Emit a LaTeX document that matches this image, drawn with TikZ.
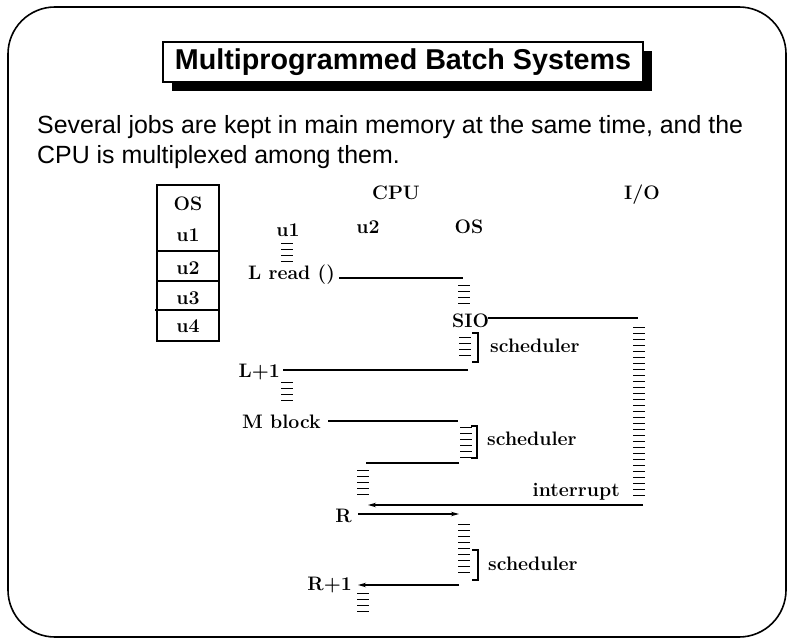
\documentclass[tikz,border=0pt]{standalone}
\usepackage{fontspec}
\newfontfamily\sansf{Liberation Sans}
\usetikzlibrary{arrows.meta}
\newcommand{\tstack}[3]{\draw[stk] (#1,#2) -- (#1,#3);}
\begin{document}
\begin{tikzpicture}[x=1pt,y=-1pt,
  lbl/.style={font=\bfseries\fontsize{19.5}{24}\selectfont, inner sep=0pt},
  tl/.style={line width=1.2pt},
  stk/.style={line width=12pt, dash pattern=on 1.3pt off 4.7pt},
  arr/.style={tl,-{Stealth[length=8pt,width=4.5pt]}},
  brk/.style={line width=1.2pt}]
\useasboundingbox (0,0) rectangle (789,639);
% frame
\draw[line width=1.6pt, rounded corners=47pt] (8,7) rectangle (786,637);
% title with shadow
\fill (172,51) rectangle (652,91);
\node[draw, line width=1.3pt, fill=white, inner sep=0pt, minimum width=480pt, minimum height=40pt,
  font=\sansf\bfseries\fontsize{28.7}{32}\selectfont] (title) at (403,62) {Multiprogrammed Batch Systems};
% body text
\node[anchor=base west, inner sep=0pt, font=\sansf\fontsize{24.9}{30}\selectfont] (l1) at (37,134)
  {Several jobs are kept in main memory at the same time, and the};
\node[anchor=base west, inner sep=0pt, font=\sansf\fontsize{24.9}{30}\selectfont] (l2) at (37,164)
  {CPU is multiplexed among them.};
% memory box
\node[draw, tl, minimum width=62pt, minimum height=156pt, inner sep=0pt] (mem) at (188,263) {};
\draw[tl] (157,251) -- (219,251);
\draw[tl] (157,281) -- (219,281);
\draw[tl] (155,310) -- (219,310);
\node[lbl, anchor=base] (mos) at (188,210) {OS};
\node[lbl, anchor=base] (mu1) at (188,241) {u1};
\node[lbl, anchor=base] (mu2) at (188,274) {u2};
\node[lbl, anchor=base] (mu3) at (188,304) {u3};
\node[lbl, anchor=base] (mu4) at (188,332) {u4};
% column headers
\node[lbl, anchor=base] (cpu) at (396,199) {CPU};
\node[lbl, anchor=base] (io) at (642,199) {I/O};
\node[lbl, anchor=base] (cu1) at (288,236) {u1};
\node[lbl, anchor=base] (cu2) at (368,233) {u2};
\node[lbl, anchor=base] (cos) at (469,233) {OS};
% labels
\node[lbl, anchor=base east] (lread) at (335,279) {L read ()};
\node[lbl, anchor=base west] (sio) at (452,327) {SIO};
\node[lbl, anchor=base west] (sch1) at (490,352) {scheduler};
\node[lbl, anchor=base east] (lp1) at (280,377) {L+1};
\node[lbl, anchor=base east] (mblock) at (321,428) {M block};
\node[lbl, anchor=base west] (sch2) at (487,445) {scheduler};
\node[lbl, anchor=base east] (intr) at (620,496) {interrupt};
\node[lbl, anchor=base east] (rr) at (352,522) {R};
\node[lbl, anchor=base west] (sch3) at (488,570) {scheduler};
\node[lbl, anchor=base east] (rp1) at (352,590) {R+1};
% connector end points
\coordinate (a0) at (339,278); \coordinate (a1) at (463,278);
\coordinate (b0) at (488,318); \coordinate (b1) at (638,318);
\coordinate (c0) at (468,370); \coordinate (c1) at (283,370);
\coordinate (d0) at (328,421); \coordinate (d1) at (458,421);
\coordinate (e0) at (459,463); \coordinate (e1) at (366,463);
\coordinate (f0) at (643,505); \coordinate (f1) at (368,505);
\coordinate (g0) at (358,514); \coordinate (g1) at (459,514);
\coordinate (h0) at (459,585); \coordinate (h1) at (358,585);
\draw[tl] (a0) -- (a1);
\draw[tl] (b0) -- (b1);
\draw[tl] (c0) -- (c1);
\draw[tl] (d0) -- (d1);
\draw[tl] (e0) -- (e1);
\draw[arr] (f0) -- (f1);
\draw[arr] (g0) -- (g1);
\draw[arr] (h0) -- (h1);
% execution stacks
\tstack{287}{243}{262}
\tstack{464}{285}{306}
\tstack{465}{337}{360}
\tstack{287}{382}{404}
\tstack{466}{427}{458}
\tstack{363}{470}{499}
\tstack{464}{524}{575}
\tstack{363}{593}{612}
\tstack{639}{327}{500}
% brackets
\draw[brk] (472,333) -- (478,333) -- (478,362) -- (472,362);
\draw[brk] (471,426) -- (477,426) -- (477,458) -- (471,458);
\draw[brk] (472,550) -- (478,550) -- (478,580) -- (472,580);
\end{tikzpicture}
\end{document}
